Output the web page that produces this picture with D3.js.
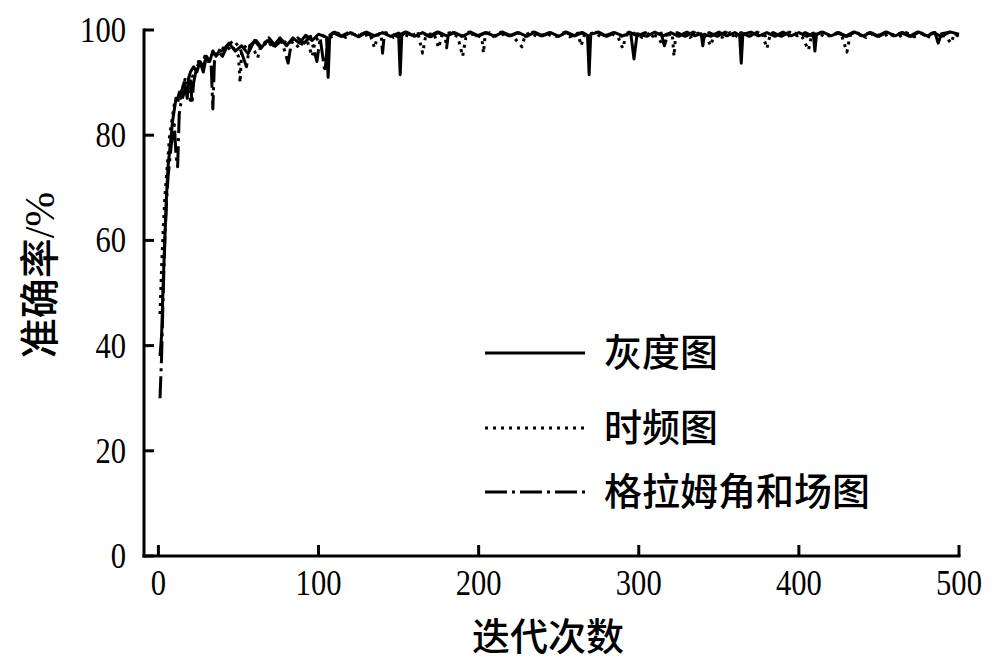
<!DOCTYPE html>
<html>
<head>
<meta charset="utf-8">
<script src="https://cdn.jsdelivr.net/npm/d3@7"></script>
<style>
	body { margin: 0; background: #fff; }
	svg { display: block; }
	.tick-label { font-family: "Liberation Serif", "Times New Roman", serif; font-size: 36px; fill: #000; }
	.cjk { font-family: "Noto Sans CJK SC", sans-serif; font-size: 38px; font-weight: 500; fill: #000; }
</style>
</head>
<body>
<svg id="chart" width="1000" height="664"></svg>
<script>
// [iteration, accuracy %], one list per curve
const grayPoints = [[1,38],[2,42],[3,52],[4,60],[5,68],[6,74],[7,77],[8,80],[9,83],[10,85],[11,87],[12,87],[13,88],[14,87],[15,89],[16,90],[17,89],[18,87],[19,91],[20,92],
	[22,93],[24,92],[26,94],[28,93],[30,95],[32,94],[34,96],[36,95],[38,96],[40,96],
	[44,97.5],[48,96],[52,97],[56,95.5],[60,98],[64,96.5],[68,98],[72,97],[76,98.5],[80,97],[84,98.5],[88,97.5],[92,99],[96,98],[100,99.2],
	[105,98.6],[106,91],[107,98.8],[110,99.6],[115,98.8],[120,99.5],[125,98.7],[130,99.6],[135,98.9],[140,99.5],[145,98.8],[150,99.4],[151,91.5],[152,99],[155,99.6],[160,98.8],[165,99.5],[170,98.7],[175,99.6],[180,98.9],[185,99.5],[190,98.8],[195,99.6],[200,98.9],
	[205,99.5],[210,98.8],[215,99.6],[220,98.9],[225,99.5],[230,98.8],[235,99.6],[240,98.9],[245,99.5],[250,98.8],[255,99.6],[260,98.9],[265,99.5],[268,99],[269,91.5],[270,99.2],[275,99.6],[280,98.8],[285,99.5],[290,98.9],[295,99.4],[297,94.5],[299,99.3],
	[305,98.8],[310,99.6],[315,98.9],[320,99.5],[325,98.8],[330,99.6],[335,98.9],[339,99.3],[340,97],[341,99.2],[345,98.8],[350,99.6],[355,98.9],[360,99.5],[363,99],[364,93.7],[365,99.2],[370,99.6],[375,98.9],[380,99.5],[385,98.8],[390,99.6],[395,98.9],[400,99.5],
	[405,98.8],[409,99.4],[410,96],[411,99.2],[415,99.6],[420,98.9],[425,99.5],[430,98.8],[435,99.6],[440,98.9],[445,99.5],[450,98.8],[455,99.6],[460,98.9],[465,99.5],[470,98.8],[475,99.6],[480,98.9],[485,99.5],[487,97.5],[489,99.3],[495,99.6],[500,99.2]];

const timeFreqPoints = [[1,46],[2,55],[3,62],[4,68],[5,72],[6,76],[7,80],[8,82],[9,84],[10,86],[11,87],[12,86],[13,88],[14,89],[15,88],[16,90],[17,91],[18,88],[19,91],[20,86],[21,91],
	[23,92],[25,94],[27,93],[29,95],[31,94],[33,95],[35,96],[37,95],[39,97],[42,96],[46,97],[50,95],[51,90],[52,96],[56,97.5],[60,96],[62,94.7],[64,97],[68,98],[72,96.5],[76,98.5],[80,97.5],[84,98],[88,96.5],[92,98.8],[96,95],[98,98],
	[102,99],[107,98.5],[112,99.4],[117,98.6],[122,99.5],[127,98.7],[132,99.3],[135,96.6],[137,99],[142,99.5],[147,98.6],[152,99.4],[157,98.7],[162,99.5],[165,95.6],[167,99],[172,99.4],[175,96.6],[177,99],[182,99.5],[187,98.7],[190,95],[192,98.5],[197,99.4],
	[202,98.5],[203,95.6],[204,98.8],[207,99.5],[212,98.7],[217,99.4],[222,98.6],[227,96.8],[229,99],[232,99.5],[237,98.7],[242,99.4],[247,98.6],[252,99.5],[257,98.7],[262,99.4],[264,97],[266,99],[272,99.5],[277,98.6],[282,99.4],[287,98.7],[290,96.5],[292,99],[297,99.4],
	[302,98.6],[307,99.4],[312,98.7],[315,97],[317,99],[321,98.8],[322,95],[323,98.8],[327,99.5],[332,98.6],[337,99.4],[342,98.7],[345,97],[347,99.2],[352,98.6],[357,99.5],[362,98.7],[367,99.4],[372,98.6],[377,99.5],[380,96.5],[382,99],[387,99.4],[392,98.6],[397,99.5],
	[402,98.7],[406,96.2],[408,99],[412,99.4],[417,98.6],[422,99.5],[427,98.7],[430,95.8],[432,99],[437,99.4],[442,98.6],[447,99.5],[452,98.7],[457,99.4],[462,98.6],[467,99.5],[472,98.7],[477,99.4],[482,98.6],[487,99.3],[492,98.7],[495,97.5],[497,99.2],[500,98.8]];

const gafPoints = [[1,30],[2,38],[3,50],[4,60],[5,67],[6,72],[7,75],[8,78],[9,80],[10,82],[11,76],[12,74],[13,84],[14,86],[15,87],[16,88],[17,89],[18,88],[19,90],[20,91],[21,86],[22,90],
	[24,93],[26,94],[28,92],[30,95],[32,94],[33,93],[34,85],[35,94],[37,96],[40,95],[43,97],[47,98],[51,96.5],[55,93],[57,97],[61,98],[65,96.5],[69,98.5],[73,97],[77,98],[81,93.7],[83,97.5],[87,98.5],[91,97.5],[95,98.8],[99,94],[101,98.5],
	[104,92],[106,98.8],[109,99.5],[114,98.8],[119,99.6],[124,98.9],[129,99.5],[134,98.8],[139,99.4],[140,95.6],[141,99],[144,99.5],[149,98.8],[154,99.6],[159,98.9],[164,99.5],[169,98.8],[174,99.6],[179,98.9],[180,96.6],[181,99],[184,99.5],[189,98.8],[194,99.6],[199,98.9],
	[204,99.5],[209,98.8],[214,99.6],[219,98.9],[224,99.5],[229,98.8],[234,99.6],[239,98.9],[244,99.5],[249,98.8],[254,99.6],[259,98.9],[264,99.5],[269,98.8],[274,99.6],[279,98.9],[284,99.5],[289,98.8],[294,99.6],[299,98.9],
	[304,99.5],[309,98.8],[314,99.4],[316,97],[318,99],[324,99.5],[329,98.8],[334,99.6],[339,98.9],[344,99.5],[349,98.8],[354,99.6],[359,98.9],[364,99.5],[369,98.8],[374,99.6],[379,98.9],[384,99.5],[389,98.8],[394,99.6],[399,98.9],
	[404,99.5],[409,98.8],[414,99.6],[419,98.9],[424,99.5],[429,98.8],[434,99.6],[439,98.9],[444,99.5],[449,98.8],[454,99.6],[459,98.9],[464,99.5],[469,98.8],[474,99.6],[479,98.9],[484,99.5],[489,98.8],[494,99.6],[500,99]];

const seriesNames = ["灰度图", "时频图", "格拉姆角和场图"];
const xTicks = [0, 100, 200, 300, 400, 500];
const yTicks = [0, 20, 40, 60, 80, 100];

const svg = d3.select("#chart");

const x = d3.scaleLinear().domain([-9, 500]).range([144, 959]);
const y = d3.scaleLinear().domain([0, 100]).range([556, 30]);

// line styles: solid, dotted, dash-dot
const styles = [
	{ dash: null },
	{ dash: "3,5" },
	{ dash: "22,5,3,5" }
];
const allSeries = [grayPoints, timeFreqPoints, gafPoints];

const line = d3.line()
	.x(d => x(d[0]))
	.y(d => y(d[1]));

// draw in reverse so the solid line ends up on top
for (let s = allSeries.length - 1; s >= 0; s--) {
	svg.append("path")
		.datum(allSeries[s])
		.attr("fill", "none")
		.attr("stroke", "#000")
		.attr("stroke-width", 3)
		.attr("stroke-linejoin", "round")
		.attr("stroke-dasharray", styles[s].dash)
		.attr("d", line);
}

// axes (ticks point inward)
const axisG = svg.append("g").attr("stroke", "#000").attr("stroke-width", 3);
axisG.append("line")
	.attr("x1", x(-9)).attr("x2", x(-9))
	.attr("y1", y(0) + 1.5).attr("y2", y(100) - 1.5);
axisG.append("line")
	.attr("x1", x(-9) - 1.5).attr("x2", x(500) + 1.5)
	.attr("y1", y(0)).attr("y2", y(0));

yTicks.forEach(t => {
	axisG.append("line")
		.attr("x1", x(-9)).attr("x2", x(-9) + 10)
		.attr("y1", y(t)).attr("y2", y(t));
	svg.append("text")
		.attr("class", "tick-label")
		.attr("text-anchor", "end")
		.attr("transform", "translate(" + 126 + "," + (y(t) + 12) + ") scale(0.85,1)")
		.text(t);
});

xTicks.forEach(t => {
	axisG.append("line")
		.attr("x1", x(t)).attr("x2", x(t))
		.attr("y1", y(0)).attr("y2", y(0) - 11);
	svg.append("text")
		.attr("class", "tick-label")
		.attr("text-anchor", "middle")
		.attr("transform", "translate(" + x(t) + "," + 595 + ") scale(0.85,1)")
		.text(t);
});

// axis titles
svg.append("text")
	.attr("class", "cjk")
	.attr("text-anchor", "middle")
	.attr("x", 548).attr("y", 650)
	.text("迭代次数");

const yTitle = svg.append("text")
	.attr("class", "cjk")
	.attr("text-anchor", "middle")
	.style("font-size", "40px")
	.attr("transform", "translate(54,275) rotate(-90)");
yTitle.append("tspan").text("准确率");
yTitle.append("tspan")
	.style("font-family", "Liberation Serif, serif")
	.style("font-weight", "400")
	.style("font-size", "42px")
	.text("/%");

// legend
const legendY = [353, 428, 492];
seriesNames.forEach((name, i) => {
	svg.append("line")
		.attr("x1", 485).attr("x2", 585)
		.attr("y1", legendY[i]).attr("y2", legendY[i])
		.attr("stroke", "#000")
		.attr("stroke-width", 3)
		.attr("stroke-dasharray", styles[i].dash);
	svg.append("text")
		.attr("class", "cjk")
		.attr("x", 604)
		.attr("y", legendY[i] + 13)
		.text(name);
});
</script>
</body>
</html>
